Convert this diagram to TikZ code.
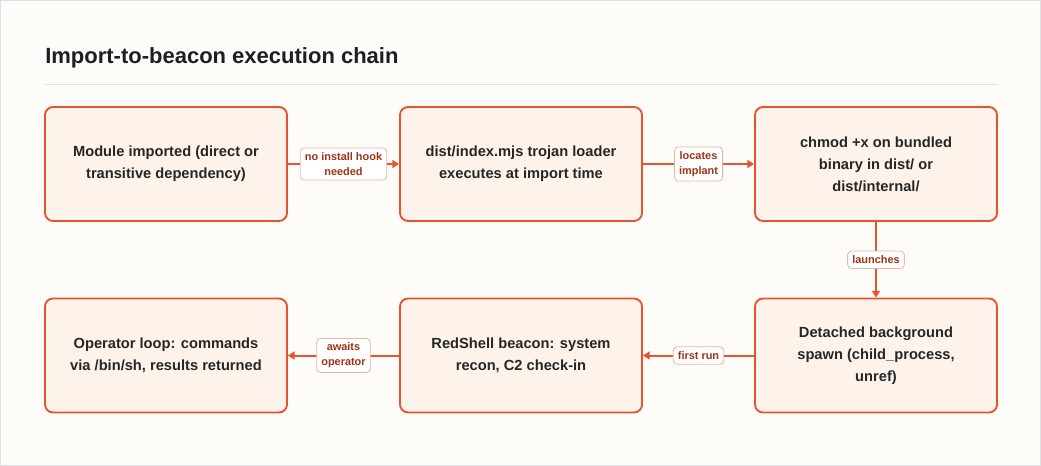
\documentclass[tikz,border=0pt]{standalone}
\usepackage{fontspec}
\setmainfont{Liberation Sans}
\usetikzlibrary{arrows.meta,positioning}
\definecolor{chainred}{HTML}{E5532F}
\definecolor{chainfill}{HTML}{FDF3EB}
\definecolor{chainbg}{HTML}{FEFCF9}
\definecolor{tagtext}{HTML}{9E3418}
\definecolor{tagline}{HTML}{E9B5A3}
\tikzset{
	stepnode/.style={rectangle, rounded corners=6pt, draw=chainred, fill=chainfill, line width=1.4pt,
		minimum width=181.5pt, minimum height=85.5pt, align=center,
		font=\fontsize{11}{16.5}\selectfont\bfseries, text=black!85},
	tagnode/.style={rectangle, rounded corners=3pt, draw=tagline, fill=white, line width=0.6pt,
		font=\fontsize{8.2}{11}\selectfont\bfseries, text=tagtext, align=center, inner sep=3.5pt},
	flow/.style={draw=chainred, line width=1.5pt, -{Triangle[length=5pt,width=6pt]}}
}
\begin{document}
\begin{tikzpicture}[x=0.75pt,y=-0.75pt]
	\fill[chainbg] (0,0) rectangle (1041,466);
	\draw[black!12, line width=0.5pt] (0.5,0.5) rectangle (1040.5,465.5);
	\useasboundingbox (0,0) rectangle (1041,466);
	\node[anchor=west, inner sep=0pt, font=\fontsize{16.5}{18}\selectfont\bfseries, text=black!88] (title) at (45,58) {Import-to-beacon execution chain};
	\draw[black!12, line width=0.6pt] (45,84) -- (997,84);

	\node[stepnode] (import) at (166,164) {Module imported (direct or\\transitive dependency)};
	\node[stepnode] (loader) at (521,164) {dist/index.mjs trojan loader\\executes at import time};
	\node[stepnode] (chmod) at (876,164) {chmod +x on bundled\\binary in dist/ or\\dist/internal/};
	\node[stepnode] (spawn) at (876,355.5) {Detached background\\spawn (child\_process,\\unref)};
	\node[stepnode] (beacon) at (521,355.5) {RedShell beacon: system\\recon, C2 check-in};
	\node[stepnode] (loop) at (166,355.5) {Operator loop: commands\\via /bin/sh, results returned};

	\draw[flow] (import) -- node[tagnode]{no install hook\\needed} (loader);
	\draw[flow] (loader) -- node[tagnode]{locates\\implant} (chmod);
	\draw[flow] (chmod) -- node[tagnode]{launches} (spawn);
	\draw[flow] (spawn) -- node[tagnode]{first run} (beacon);
	\draw[flow] (beacon) -- node[tagnode]{awaits\\operator} (loop);
\end{tikzpicture}
\end{document}
